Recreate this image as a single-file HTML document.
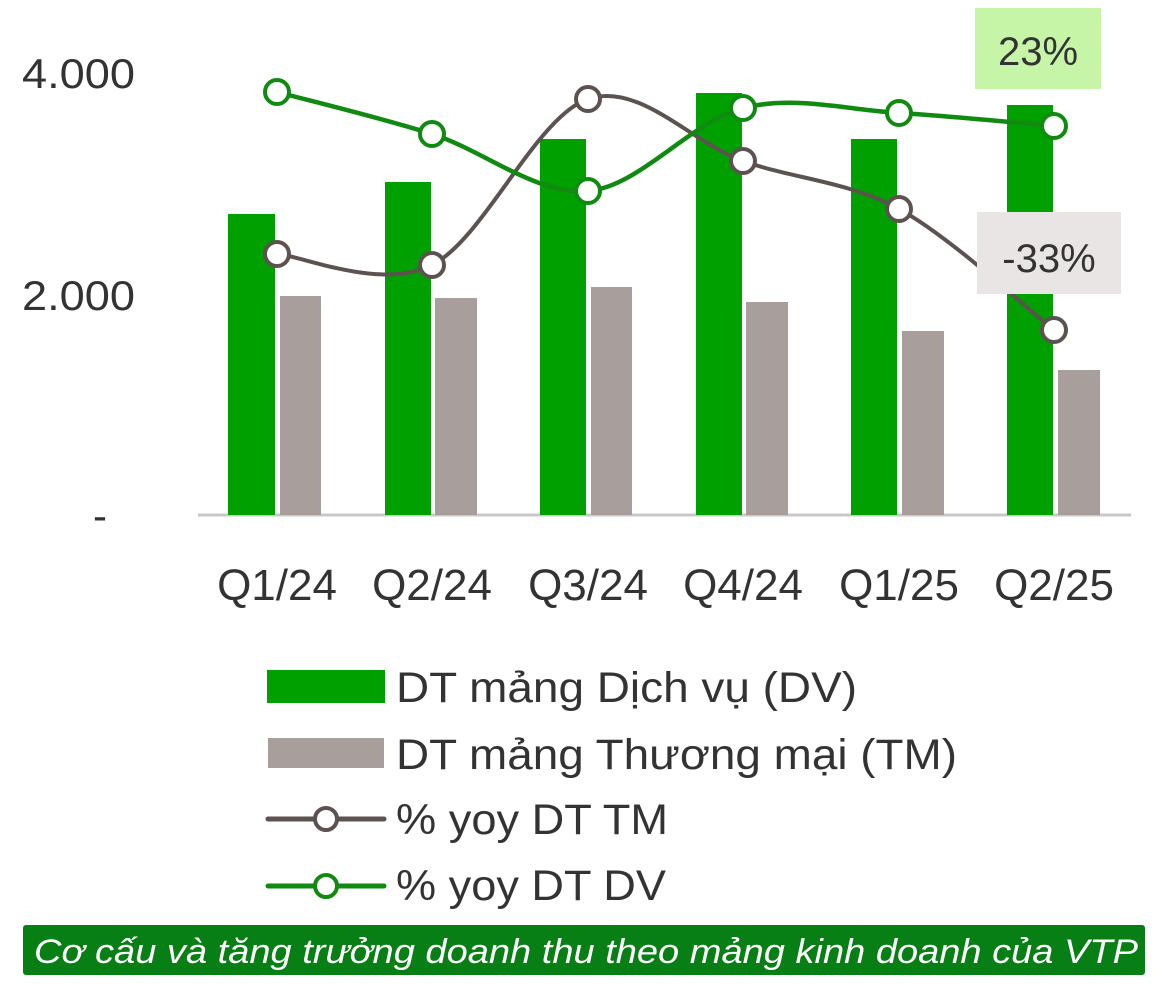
<!DOCTYPE html>
<html><head><meta charset="utf-8"><style>
html,body{margin:0;padding:0;background:#fff;}
svg{display:block;font-family:"Liberation Sans",sans-serif;}
</style></head><body>
<svg id="s" width="1172" height="988" viewBox="0 0 1172 988" xmlns="http://www.w3.org/2000/svg">
<g fill="#333" font-size="42">
<text x="22" y="88" textLength="113" lengthAdjust="spacingAndGlyphs">4.000</text>
<text x="22" y="310" textLength="113" lengthAdjust="spacingAndGlyphs">2.000</text>
<text x="93" y="530">-</text>
</g>
<line x1="198" y1="515" x2="1131" y2="515" stroke="#c8c8c8" stroke-width="3"/>
<g fill="#00a000">
<rect x="228" y="214" width="47" height="301"/>
<rect x="385" y="182" width="46" height="333"/>
<rect x="540" y="139" width="46" height="376"/>
<rect x="696" y="93" width="46" height="422"/>
<rect x="851" y="139" width="46" height="376"/>
<rect x="1007" y="105" width="46" height="410"/>
</g>
<g fill="#a89e9c">
<rect x="280" y="296" width="41" height="219"/>
<rect x="435" y="298" width="42" height="217"/>
<rect x="591" y="287" width="41" height="228"/>
<rect x="746" y="302" width="42" height="213"/>
<rect x="902" y="331" width="42" height="184"/>
<rect x="1058" y="370" width="42" height="145"/>
</g>
<path id="pg" fill="none" stroke="#5c5250" stroke-width="4"/>
<path id="pd" fill="none" stroke="#118a11" stroke-width="4.5"/>
<rect x="975" y="8" width="126" height="81" fill="#c6f5a8"/>
<text x="1038" y="65" text-anchor="middle" font-size="40" fill="#333">23%</text>
<rect x="977" y="212" width="144" height="82" fill="#e9e5e4"/>
<text x="1049" y="272" text-anchor="middle" font-size="40" fill="#333">-33%</text>
<g id="mk"></g>
<g fill="#333" font-size="44" text-anchor="middle">
<text x="277" y="600">Q1/24</text>
<text x="432" y="600">Q2/24</text>
<text x="588" y="600">Q3/24</text>
<text x="743" y="600">Q4/24</text>
<text x="899" y="600">Q1/25</text>
<text x="1054" y="600">Q2/25</text>
</g>
<rect x="267" y="670" width="118" height="33" fill="#00a000"/>
<rect x="268" y="738" width="116" height="30" fill="#a89e9c"/>
<line x1="268" y1="819" x2="384" y2="819" stroke="#5c5250" stroke-width="5" stroke-linecap="round"/>
<circle cx="326" cy="819" r="11" fill="#fff" stroke="#5c5250" stroke-width="4"/>
<line x1="268" y1="886" x2="384" y2="886" stroke="#118a11" stroke-width="5" stroke-linecap="round"/>
<circle cx="326" cy="886" r="11" fill="#fff" stroke="#118a11" stroke-width="4"/>
<g fill="#333" font-size="43">
<text x="396" y="702" textLength="461" lengthAdjust="spacingAndGlyphs">DT mảng Dịch vụ (DV)</text>
<text x="396" y="769" textLength="561" lengthAdjust="spacingAndGlyphs">DT mảng Thương mại (TM)</text>
<text x="396" y="834" textLength="272" lengthAdjust="spacingAndGlyphs">% yoy DT TM</text>
<text x="396" y="900" textLength="270" lengthAdjust="spacingAndGlyphs">% yoy DT DV</text>
</g>
<rect x="23" y="925" width="1122" height="50" rx="3" fill="#077f14"/>
<text x="34" y="963" font-size="34" font-style="italic" fill="#fff" textLength="1104" lengthAdjust="spacingAndGlyphs">Cơ cấu và tăng trưởng doanh thu theo mảng kinh doanh của VTP</text>
</svg>
<script>
function sm(p){var d="M"+p[0][0]+","+p[0][1];for(var i=0;i<p.length-1;i++){var a=p[i-1]||p[i],b=p[i],c=p[i+1],e=p[i+2]||c;var t=6;d+=" C"+(b[0]+(c[0]-a[0])/t)+","+(b[1]+(c[1]-a[1])/t)+" "+(c[0]-(e[0]-b[0])/t)+","+(c[1]-(e[1]-b[1])/t)+" "+c[0]+","+c[1];}return d;}
var g=[[277,254],[432,265],[588,99],[743,161],[899,209],[1054,330]];
var v=[[277,92],[432,134],[588,191],[743,108],[899,113],[1054,126]];
document.getElementById("pg").setAttribute("d",sm(g));
document.getElementById("pd").setAttribute("d",sm(v));
var m="";
g.forEach(function(q){m+='<circle cx="'+q[0]+'" cy="'+q[1]+'" r="12" fill="#fff" stroke="#5c5250" stroke-width="4"/>';});
v.forEach(function(q){m+='<circle cx="'+q[0]+'" cy="'+q[1]+'" r="12" fill="#fff" stroke="#118a11" stroke-width="4"/>';});
document.getElementById("mk").innerHTML=m;
</script>
</body></html>
